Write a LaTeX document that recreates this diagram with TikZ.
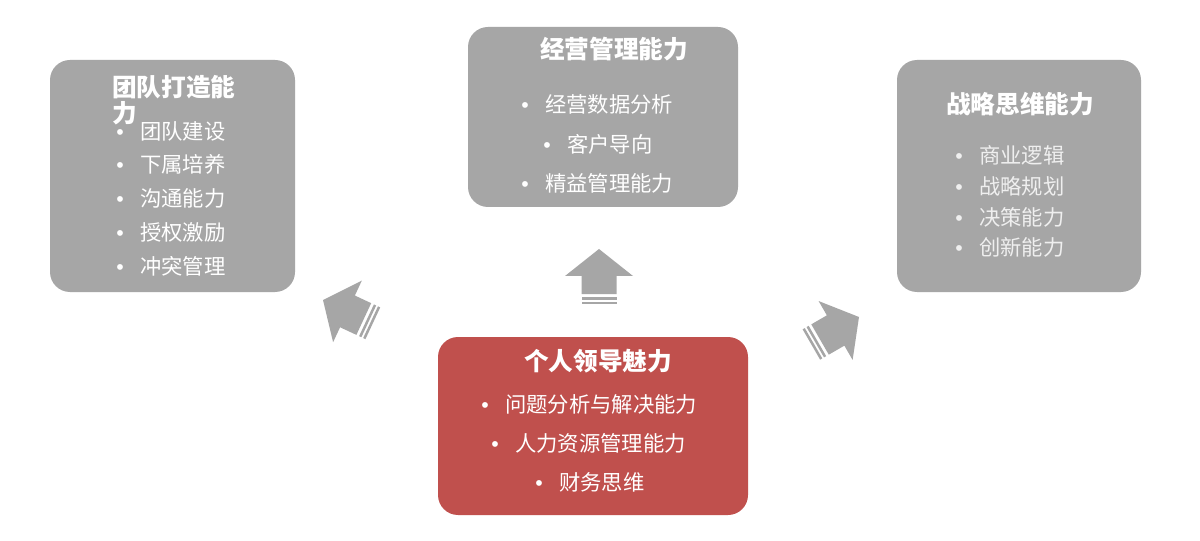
\documentclass[tikz,border=0pt]{standalone}
\usepackage{fontspec}
\setmainfont{Noto Sans CJK SC}
\newfontfamily\bulfont{Liberation Sans}
\definecolor{boxgray}{HTML}{A6A6A6}
\definecolor{boxred}{HTML}{C0504D}
\definecolor{softwhite}{HTML}{EFEFEF}
\newcommand\bul{\makebox[18pt][l]{\bulfont •}}
\tikzset{
  card/.style={fill=#1, rounded corners=15pt},
  cardtitle/.style={text=white, font=\fontsize{18.5}{19.5}\selectfont\bfseries, inner sep=0pt},
  item/.style={text=white, font=\fontsize{16}{18}\selectfont, inner sep=0pt, anchor=west},
  pics/fatarrow/.style={code={
    \fill[boxgray] (0,0) -- (34,-27) -- (17.5,-27) -- (17.5,-45) -- (-17.5,-45) -- (-17.5,-27) -- (-34,-27) -- cycle;
    \fill[boxgray] (-17.5,-48) rectangle (17.5,-50.5);
    \fill[boxgray] (-17.5,-52.5) rectangle (17.5,-55);
  }}
}
\begin{document}
\begin{tikzpicture}[x=0.75pt,y=0.75pt]
\useasboundingbox (0,0) rectangle (1200,540);
\fill[white] (0,0) rectangle (1200,540);
% boxes
\fill[card=boxgray] (50,248) rectangle (295,480);
\fill[card=boxgray] (468,333) rectangle (738,513);
\fill[card=boxgray] (897,248) rectangle (1141,480);
\fill[card=boxred] (438,25) rectangle (748,203);
% left
\node[cardtitle, anchor=west, align=left] (ltitle) at (112,440) {团队打造能\\力};
\node[item] (l1) at (116,409) {\bul 团队建设};
\node[item] (l2) at (116,376) {\bul 下属培养};
\node[item] (l3) at (116,342) {\bul 沟通能力};
\node[item] (l4) at (116,308) {\bul 授权激励};
\node[item] (l5) at (116,274) {\bul 冲突管理};
% top
\node[cardtitle] (ttitle) at (614,491) {经营管理能力};
\node[item] (t1) at (521,436) {\bul 经营数据分析};
\node[item] (t2) at (543,396) {\bul 客户导向};
\node[item] (t3) at (521,357) {\bul 精益管理能力};
% right
\node[cardtitle] (rtitle) at (1020,436) {战略思维能力};
\node[item, text=softwhite] (r1) at (955,385) {\bul 商业逻辑};
\node[item, text=softwhite] (r2) at (955,354) {\bul 战略规划};
\node[item, text=softwhite] (r3) at (955,323) {\bul 决策能力};
\node[item, text=softwhite] (r4) at (955,293) {\bul 创新能力};
% bottom
\node[cardtitle] (btitle) at (598,179) {个人领导魅力};
\node[item] (b1) at (481,136) {\bul 问题分析与解决能力};
\node[item] (b2) at (491,97) {\bul 人力资源管理能力};
\node[item] (b3) at (535,58) {\bul 财务思维};
% arrows
\pic[rotate=65] (arrL) at (323,240) {fatarrow};
\pic (arrU) at (599,291) {fatarrow};
\pic[rotate=-60] (arrR) at (859,223) {fatarrow};
\end{tikzpicture}
\end{document}
